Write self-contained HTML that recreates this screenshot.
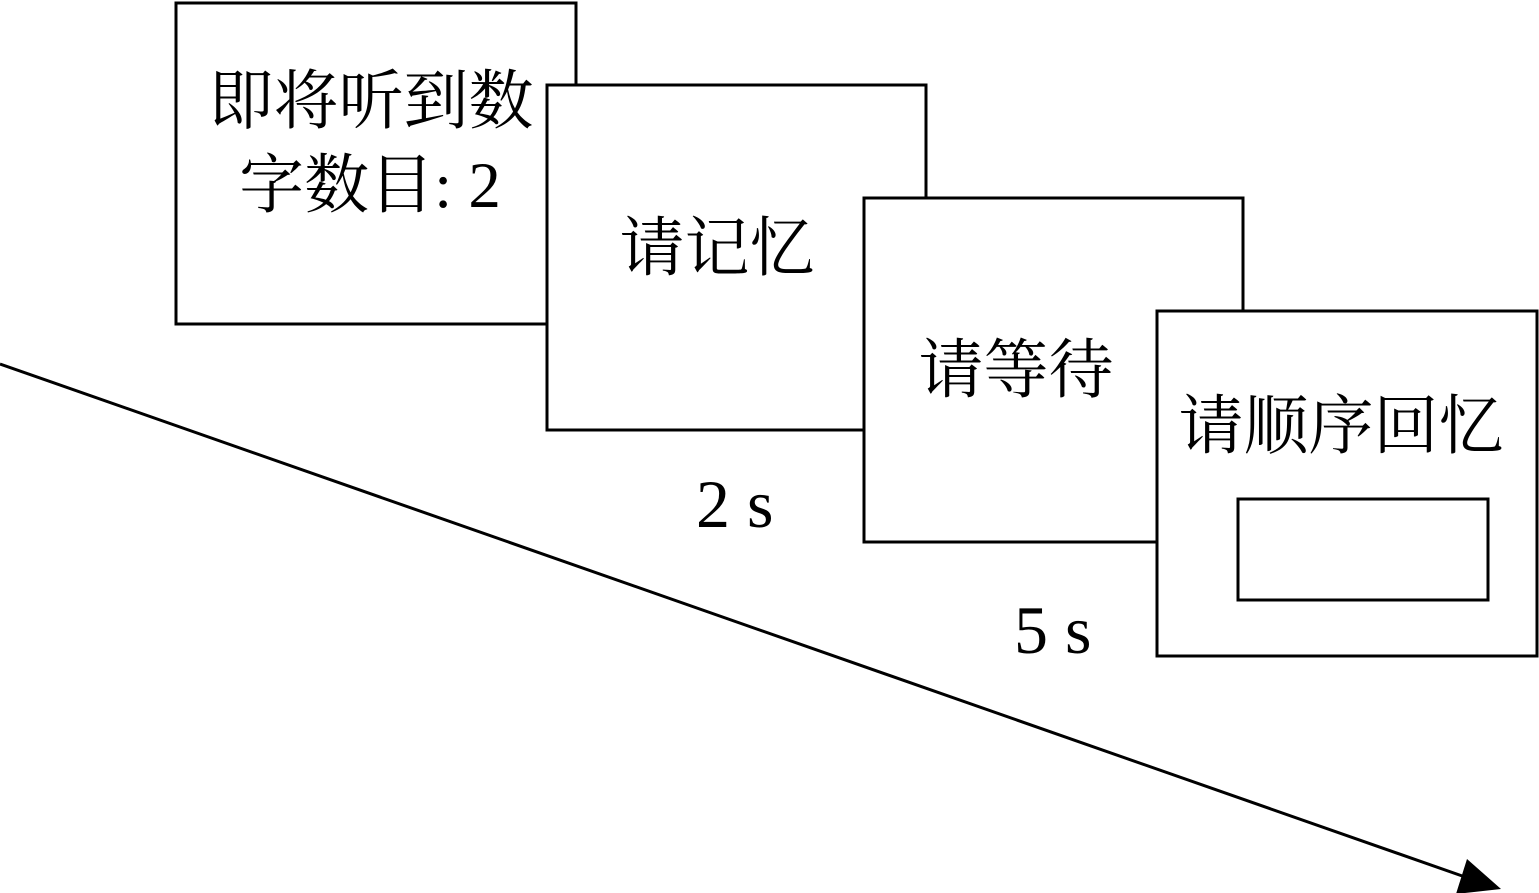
<!DOCTYPE html>
<html>
<head>
<meta charset="utf-8">
<style>
  html,body{margin:0;padding:0;background:#fff;}
  svg{display:block;}
  .cjk{font-family:"Liberation Serif","Noto Serif CJK SC","Noto Sans CJK SC",serif;font-size:65px;fill:#000;}
  .lat{font-family:"Liberation Serif",serif;font-size:68px;fill:#000;}
</style>
</head>
<body>
<svg width="1539" height="893" viewBox="0 0 1539 893" xmlns="http://www.w3.org/2000/svg">
  <rect x="0" y="0" width="1539" height="893" fill="#fff"/>
  <!-- Box 1 -->
  <rect x="176" y="3" width="400" height="321" fill="#fff" stroke="#000" stroke-width="3"/>
  <text class="cjk" x="371" y="123" text-anchor="middle">即将听到数</text>
  <text class="cjk" x="370" y="207" text-anchor="middle">字数目: 2</text>
  <!-- Box 2 -->
  <rect x="547" y="85" width="379" height="345" fill="#fff" stroke="#000" stroke-width="3"/>
  <text class="cjk" x="717" y="270" text-anchor="middle">请记忆</text>
  <!-- Box 3 -->
  <rect x="864" y="198" width="379" height="344" fill="#fff" stroke="#000" stroke-width="3"/>
  <text class="cjk" x="1016" y="392" text-anchor="middle">请等待</text>
  <!-- Box 4 -->
  <rect x="1157" y="311" width="380" height="345" fill="#fff" stroke="#000" stroke-width="3"/>
  <text class="cjk" x="1341" y="448" text-anchor="middle">请顺序回忆</text>
  <rect x="1238" y="499" width="250" height="101" fill="#fff" stroke="#000" stroke-width="3"/>
  <!-- Durations -->
  <text class="lat" x="696" y="527">2 s</text>
  <text class="lat" x="1014" y="653">5 s</text>
  <!-- Time arrow -->
  <line x1="0" y1="364" x2="1468" y2="878" stroke="#000" stroke-width="3"/>
  <polygon points="1501,889 1467,859 1456,894" fill="#000"/>
</svg>
</body>
</html>
